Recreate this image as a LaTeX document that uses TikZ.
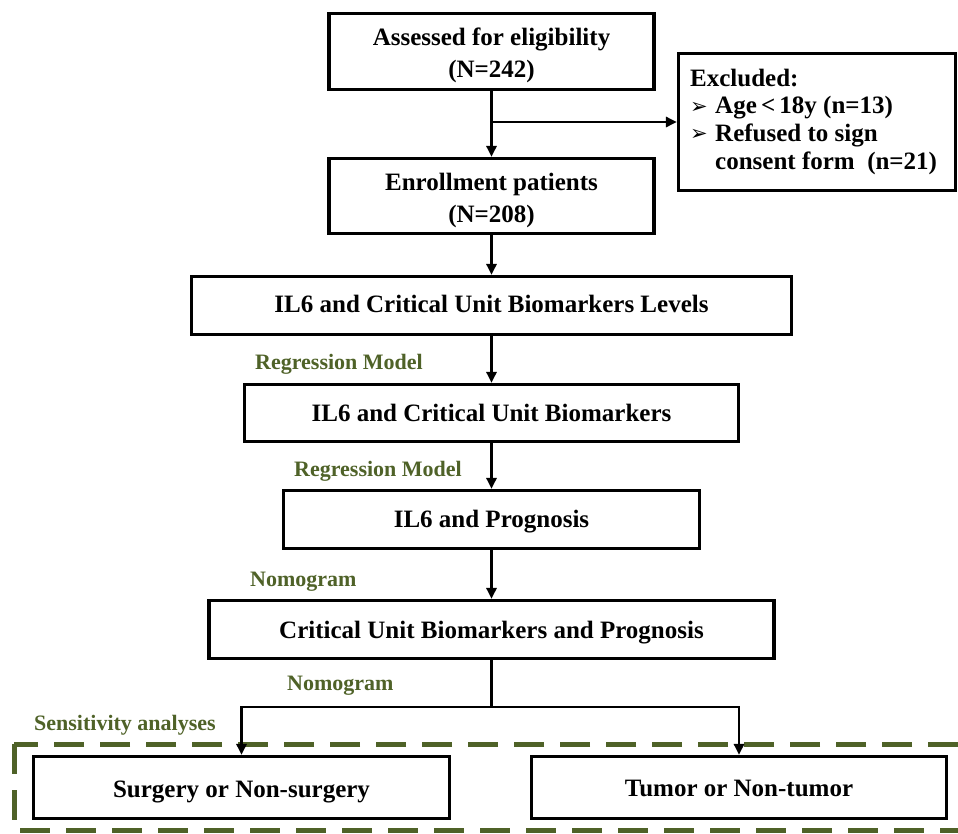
\documentclass[tikz,border=0pt]{standalone}
\usepackage{fontspec}
\setmainfont{Liberation Serif}
\newfontfamily\symfont{DejaVu Sans}
\usetikzlibrary{arrows.meta}
\definecolor{lblgreen}{HTML}{4F6228}
\newcommand{\lowtxt}[2]{\raisebox{-#1}[\height][\depth]{\begin{tabular}{@{}c@{}}#2\end{tabular}}}
\begin{document}
\begin{tikzpicture}[x=1pt,y=-1pt,
 box/.style={draw, line width=3.2pt, rectangle, inner sep=0pt, align=center, font=\fontsize{25}{32}\selectfont\bfseries},
 arr/.style={line width=2.8pt, -{Triangle[length=11pt,width=10pt]}},
 conn/.style={line width=2.8pt},
 glabel/.style={anchor=west, inner sep=0pt, text=lblgreen, font=\fontsize{22}{26}\selectfont\bfseries},
 extxt/.style={anchor=west, inner sep=0pt, font=\fontsize{25}{30}\selectfont\bfseries},
 bul/.style={anchor=west, inner sep=0pt, font=\fontsize{21}{24}\selectfont\symfont},
 grpbox/.style={draw=lblgreen, line width=5pt, dash pattern=on 30pt off 16pt}]
\useasboundingbox (0,0) rectangle (958,833);
\fill[white] (0,0) rectangle (958,833);

% group box
\draw[grpbox] (14,744) rectangle (975,830);

% boxes
\node[box, minimum width=325pt, minimum height=76pt] (b1) at (491.5,51.5) {\lowtxt{4pt}{Assessed for eligibility\\(N=242)}};
\node[box, minimum width=325pt, minimum height=75pt] (b2) at (491.5,196) {\lowtxt{4pt}{Enrollment patients\\(N=208)}};
\node[box, minimum width=277pt, minimum height=137pt] (ex) at (817,122) {};
\node[box, minimum width=600pt, minimum height=58pt] (b4) at (491.5,305.5) {\lowtxt{1pt}{IL6 and Critical Unit Biomarkers Levels}};
\node[box, minimum width=494pt, minimum height=57pt] (b5) at (491.5,413) {\lowtxt{2pt}{IL6 and Critical Unit Biomarkers}};
\node[box, minimum width=416pt, minimum height=58pt] (b6) at (491.5,519.5) {\lowtxt{2pt}{IL6 and Prognosis}};
\node[box, minimum width=565pt, minimum height=58pt] (b7) at (491.5,629.5) {\lowtxt{3pt}{Critical Unit Biomarkers and Prognosis}};
\node[box, minimum width=416pt, minimum height=62pt] (b8) at (241.5,787.5) {\lowtxt{4pt}{Surgery or Non-surgery}};
\node[box, minimum width=415pt, minimum height=62pt] (b9) at (739,787.5) {\lowtxt{3pt}{Tumor or Non-tumor}};

% excluded text
\node[extxt] (exh) at (690,78) {Excluded:};
\node[bul] (bu1) at (690,108) {➢};
\node[extxt] (ex1) at (715,108) {Age\,<\,18y (n=13)};
\node[bul] (bu2) at (690,135) {➢};
\node[extxt] (ex2) at (715,135) {Refused to sign};
\node[extxt] (ex3) at (715,163) {consent form~~(n=21)};

% green labels
\node[glabel] (rm1) at (255,364) {Regression Model};
\node[glabel] (rm2) at (294,471) {Regression Model};
\node[glabel] (nm1) at (250,582) {Nomogram};
\node[glabel] (nm2) at (287,686) {Nomogram};
\node[glabel] (sa) at (34,725) {Sensitivity analyses};

% connectors
\coordinate (br) at (491.5,122);
\coordinate (split) at (491.5,707);
\draw[arr] (b1.south) -- (b2.north);
\draw[arr] (br) -- (ex.west);
\draw[arr] (b2.south) -- (b4.north);
\draw[arr] (b4.south) -- (b5.north);
\draw[arr] (b5.south) -- (b6.north);
\draw[arr] (b6.south) -- (b7.north);
\draw[conn] (b7.south) -- (split);
\draw[arr] (split) -| (b8.north);
\draw[arr] (split) -| (b9.north);
\end{tikzpicture}
\end{document}
